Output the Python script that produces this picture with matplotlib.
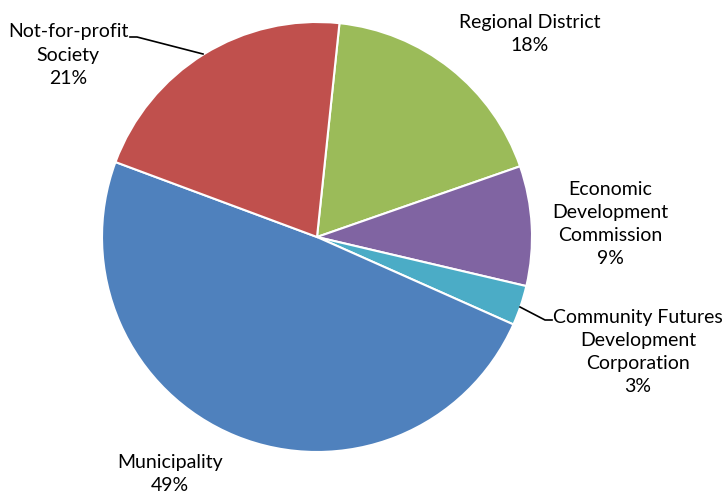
import matplotlib.pyplot as plt

# Доля за типом організації, за годинниковою стрілкою від верху
labels = ['Regional District', 'Economic\nDevelopment\nCommission',
          'Community Futures\nDevelopment\nCorporation', 'Municipality',
          'Not-for-profit\nSociety']
shares = [18, 9, 3, 49, 21]
colors = ['#9BBB59', '#8064A2', '#4BACC6', '#4F81BD', '#C0504D']

plt.rcParams['font.family'] = ['Lato', 'DejaVu Sans']

fig = plt.figure(figsize=(7.26, 4.93), dpi=100)
ax = fig.add_axes([0, 0, 1, 1])

# координати в пікселях
cx, cy, r = 317, 493 - 237, 215
wedges, _ = ax.pie(shares, colors=colors, startangle=84, counterclock=False,
                   center=(cx, cy), radius=r,
                   wedgeprops=dict(edgecolor='white', linewidth=1.5))

ax.set_xlim(0, 726)
ax.set_ylim(0, 493)
ax.set_aspect('equal')
ax.axis('off')

# позиції підписів
label_pos = [(530, 493 - 34), (610, 493 - 224), (638, 493 - 352),
             (170, 493 - 474), (68, 493 - 55)]
for lab, s, (x, y) in zip(labels, shares, label_pos):
    ax.text(x, y, f"{lab}\n{s}%", ha='center', va='center', fontsize=14,
            linespacing=1.45, color='black')

# лінії-виноски
ax.plot([130, 137, 203], [493 - 37, 493 - 37, 493 - 54], color='black', lw=1.2)
ax.plot([520, 545, 552], [493 - 307, 493 - 320, 493 - 320], color='black', lw=1.2)

fig.savefig('out.png', dpi=100)
